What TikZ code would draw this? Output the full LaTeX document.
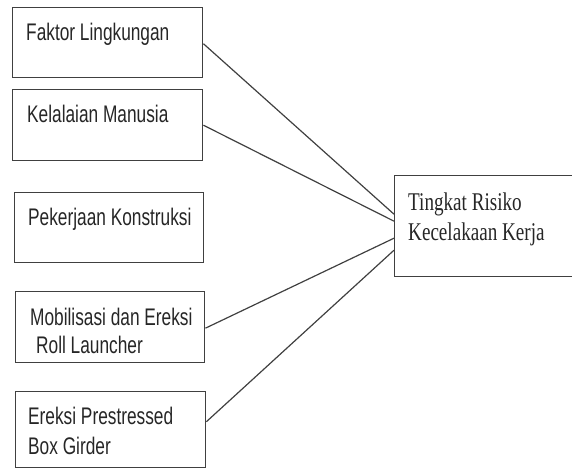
\documentclass[tikz,border=0pt]{standalone}
\usepackage{fontspec}
\setmainfont{Liberation Sans}
\newfontfamily\arialsempit[FakeStretch=0.72]{Liberation Sans}
\newfontfamily\timessempit[FakeStretch=0.75]{Liberation Serif}
\usepackage{tikz}
\usetikzlibrary{positioning}

\begin{document}
\begin{tikzpicture}[
  x=1pt, y=-1pt,
  kotak/.style={draw=black!75, line width=1.4pt, anchor=north west, inner sep=0pt},
  teks/.style={anchor=base west, inner sep=0pt, align=left, text=black!85,
    font=\arialsempit\fontsize{24}{29}\selectfont},
  teksr/.style={anchor=base west, inner sep=0pt, align=left, text=black!85,
    font=\timessempit\fontsize{25.5}{30}\selectfont},
  line/.style={draw=black!75, line width=1.2pt}
]
\useasboundingbox (0,0) rectangle (572,468);

% Left boxes
\node (faktor)    [kotak, minimum width=190pt, minimum height=70pt] at (12,7) {};
\node (kelalaian) [kotak, minimum width=190pt, minimum height=71pt] at (12,89) {};
\node (pekerjaan) [kotak, minimum width=189pt, minimum height=70pt] at (14,192) {};
\node (mobilisasi)[kotak, minimum width=189pt, minimum height=71pt] at (15,291) {};
\node (ereksi)    [kotak, minimum width=190pt, minimum height=76pt] at (15,391) {};

% Right box
\node (risiko) [kotak, minimum width=190pt, minimum height=101pt] at (394,175) {};

% Texts
\node (tfaktor)     [teks] at (26,41)  {Faktor Lingkungan};
\node (tkelalaian)  [teks] at (27,122) {Kelalaian Manusia};
\node (tpekerjaan)  [teks] at (28,225) {Pekerjaan Konstruksi};
\node (tmobilisasi) [teks] at (30,325) {Mobilisasi dan Ereksi};
\node (troll)       [teks] at (36,353) {Roll Launcher};
\node (tereksi)     [teks] at (28,424) {Ereksi Prestressed};
\node (tbox)        [teks] at (28,454) {Box Girder};
\node (ttingkat)    [teksr] at (408,210) {Tingkat Risiko};
\node (tkecelakaan) [teksr] at (408,240) {Kecelakaan Kerja};

% Connections
\draw [line] ([yshift=-1pt]faktor.east) -- ([yshift=12pt]risiko.west);
\draw [line] (kelalaian.east) -- ([yshift=5pt]risiko.west);
\draw [line] ([yshift=-1pt]mobilisasi.east) -- ([yshift=-12pt]risiko.west);
\draw [line] ([yshift=8pt]ereksi.east) -- ([yshift=-24pt]risiko.west);

\end{tikzpicture}
\end{document}
